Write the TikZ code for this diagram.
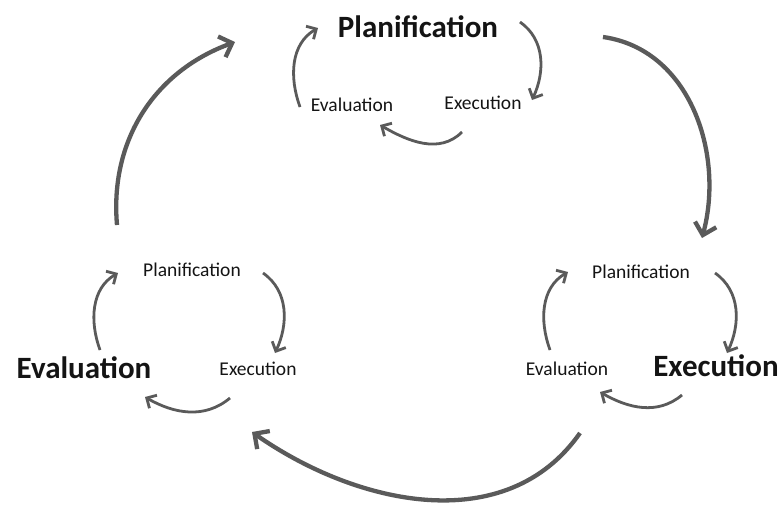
\documentclass[tikz,border=0pt]{standalone}
\usepackage{fontspec}
\setmainfont{Carlito}
\usepackage{tikz}
\usetikzlibrary{arrows.meta}

\definecolor{txtgray}{RGB}{20,20,20}
\definecolor{arrowgray}{RGB}{90,90,90}

\begin{document}
\begin{tikzpicture}[x=1pt,y=1pt,
            big/.style={font=\fontsize{31}{31}\selectfont\bfseries,text=txtgray,inner sep=0pt},
            small/.style={font=\fontsize{19.5}{19.5}\selectfont,text=txtgray,inner sep=0pt},
            bigarrow/.style={draw=arrowgray,line width=4.3pt,-{Straight Barb[length=11pt,width=22pt]}},
            smallarrow/.style={draw=arrowgray,line width=2.8pt,-{Straight Barb[length=7.5pt,width=15pt]}}]
            \useasboundingbox (0,0) rectangle (784,-504);
            \node[big] (plan) at (418,-27) {Planification};
            \node[small] (topeval) at (352,-105) {Evaluation};
            \node[small] (topexec) at (483,-103) {Execution};
            \node[small] (leftplan) at (192,-270) {Planification};
            \node[big] (eval) at (84,-368) {Evaluation};
            \node[small] (leftexec) at (258,-369) {Execution};
            \node[small] (rightplan) at (641,-272) {Planification};
            \node[big] (exec) at (716,-366) {Execution};
            \node[small] (righteval) at (567,-369) {Evaluation};
            \draw[smallarrow] ([shift={(102,5)}]plan.center) to[out=-35,in=65] ([shift={(49,3)}]topexec.center);
            \draw[smallarrow] ([shift={(-21,-29)}]topexec.center) to[out=-135,in=-30] ([shift={(28,-20)}]topeval.center);
            \draw[smallarrow] ([shift={(-52,-2)}]topeval.center) to[out=110,in=210] ([shift={(-100,-1)}]plan.center);
            \draw[smallarrow] ([shift={(71,-3)}]leftplan.center) to[out=-35,in=65] ([shift={(17,16)}]leftexec.center);
            \draw[smallarrow] ([shift={(-28,-29)}]leftexec.center) to[out=-140,in=-30] ([shift={(61,-29)}]eval.center);
            \draw[smallarrow] ([shift={(16,18)}]eval.center) to[out=110,in=210] ([shift={(-74,-3)}]leftplan.center);
            \draw[smallarrow] ([shift={(74,-1)}]rightplan.center) to[out=-35,in=65] ([shift={(11,13)}]exec.center);
            \draw[smallarrow] ([shift={(-34,-29)}]exec.center) to[out=-140,in=-30] ([shift={(33,-23)}]righteval.center);
            \draw[smallarrow] ([shift={(-17,19)}]righteval.center) to[out=110,in=210] ([shift={(-73,0)}]rightplan.center);
            \draw[bigarrow] ([shift={(185,-10)}]plan.center) to[out=-8,in=75] ([shift={(61,34)}]rightplan.center);
            \draw[bigarrow] ([shift={(13,-64)}]righteval.center) to[out=-125,in=-35] ([shift={(-6,-63)}]leftexec.center);
            \draw[bigarrow] ([shift={(33,143)}]eval.center) to[out=95,in=200] ([shift={(-183,-15)}]plan.center);
        \end{tikzpicture}
\end{document}
